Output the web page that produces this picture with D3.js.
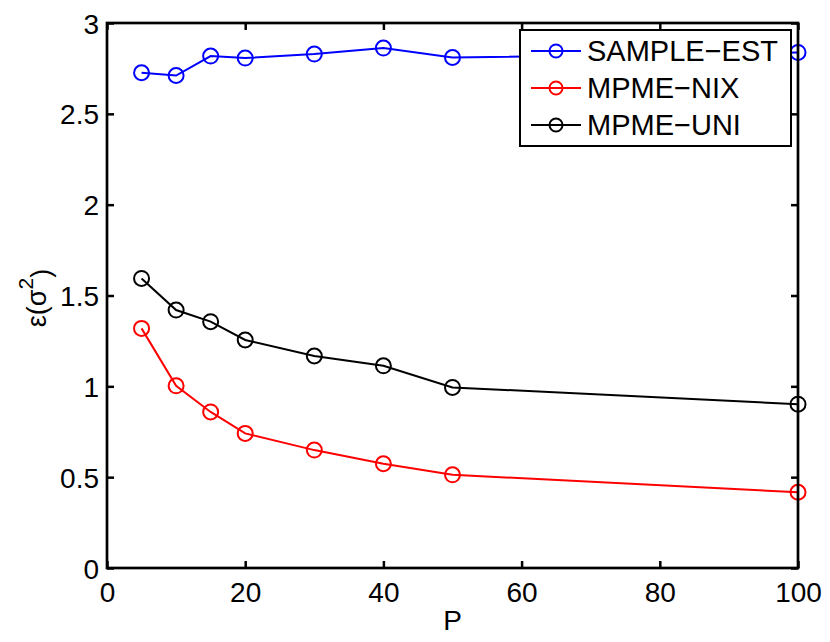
<!DOCTYPE html>
<html>
<head>
<meta charset="utf-8">
<script src="https://cdn.jsdelivr.net/npm/d3@7"></script>
<style>
  body { margin: 0; background: #fff; }
  svg text { font-family: "Liberation Sans", Arial, Helvetica, sans-serif; fill: #000; }
</style>
</head>
<body>
<svg id="chart" width="830" height="642"></svg>
<script>
// data
const pValues = [5, 10, 15, 20, 30, 40, 50, 100];
const sampleEst = [2.726, 2.711, 2.818, 2.807, 2.829, 2.862, 2.810, 2.838];
const mpmeNix = [1.319, 1.003, 0.859, 0.741, 0.649, 0.574, 0.513, 0.417];
const mpmeUni = [1.594, 1.420, 1.356, 1.255, 1.167, 1.113, 0.994, 0.902];
const seriesNames = ['SAMPLE\u2212EST', 'MPME\u2212NIX', 'MPME\u2212UNI'];
const xTicks = [0, 20, 40, 60, 80, 100];
const yTicks = [0, 0.5, 1, 1.5, 2, 2.5, 3];

const margin = { top: 23, right: 32, bottom: 74, left: 107 };
const width = 830 - margin.left - margin.right;
const height = 642 - margin.top - margin.bottom;

const svg = d3.select('svg#chart');
const g = svg.append('g')
    .attr('transform', `translate(${margin.left},${margin.top})`);

const xScale = d3.scaleLinear().domain([0, 100]).range([0, width]);
const yScale = d3.scaleLinear().domain([0, 3]).range([height, 0]);

const colors = ['#0000ff', '#ff0000', '#000000'];
const series = [sampleEst, mpmeNix, mpmeUni];

// axes, ticks point inward on every side
const tickLen = 7;
g.append('g')
    .attr('class', 'x-axis')
    .attr('transform', `translate(0,${height})`)
    .call(d3.axisBottom(xScale).tickValues(xTicks).tickSizeInner(-tickLen).tickSizeOuter(0).tickPadding(14))
    .call(a => a.select('.domain').remove());

g.append('g')
    .attr('class', 'y-axis')
    .call(d3.axisLeft(yScale).tickValues(yTicks).tickSizeInner(-tickLen).tickSizeOuter(0).tickPadding(8).tickFormat(d3.format('')))
    .call(a => a.select('.domain').remove());

g.append('g')
    .attr('class', 'x-axis-top')
    .call(d3.axisTop(xScale).tickValues(xTicks).tickSizeInner(-tickLen).tickSizeOuter(0).tickFormat(''))
    .call(a => a.select('.domain').remove());

g.append('g')
    .attr('class', 'y-axis-right')
    .attr('transform', `translate(${width},0)`)
    .call(d3.axisRight(yScale).tickValues(yTicks).tickSizeInner(-tickLen).tickSizeOuter(0).tickFormat(''))
    .call(a => a.select('.domain').remove());

svg.selectAll('.tick line').attr('stroke', '#000').attr('stroke-width', 2.5);
svg.selectAll('.x-axis text, .y-axis text')
    .style('font-size', '28px');
svg.selectAll('.y-axis text').attr('dy', '0.36em');
svg.selectAll('.x-axis text').attr('dy', '0.72em');

// data lines and circle markers
const line = d3.line()
    .x((d, i) => xScale(pValues[i]))
    .y(d => yScale(d));

series.forEach((vals, k) => {
    const sg = g.append('g').attr('class', 'series');
    sg.append('path')
        .datum(vals)
        .attr('fill', 'none')
        .attr('stroke', colors[k])
        .attr('stroke-width', 2)
        .attr('d', line);
    sg.selectAll('circle')
        .data(vals)
        .enter()
        .append('circle')
        .attr('cx', (d, i) => xScale(pValues[i]))
        .attr('cy', d => yScale(d))
        .attr('r', 7.5)
        .attr('fill', 'none')
        .attr('stroke', colors[k])
        .attr('stroke-width', 2);
});

// frame
g.append('rect')
    .attr('width', width)
    .attr('height', height)
    .attr('fill', 'none')
    .attr('stroke', '#000')
    .attr('stroke-width', 2.7);

// legend
const legendG = g.append('g')
    .attr('transform', `translate(${520 - margin.left},${30 - margin.top})`);
legendG.append('rect')
    .attr('width', 271)
    .attr('height', 116)
    .attr('fill', '#fff')
    .attr('stroke', '#000')
    .attr('stroke-width', 2);

seriesNames.forEach((name, k) => {
    const row = legendG.append('g')
        .attr('transform', `translate(0,${21 + k * 37})`);
    row.append('line')
        .attr('x1', 11).attr('x2', 61)
        .attr('stroke', colors[k])
        .attr('stroke-width', 2);
    row.append('circle')
        .attr('cx', 36)
        .attr('r', 6.5)
        .attr('fill', 'none')
        .attr('stroke', colors[k])
        .attr('stroke-width', 2);
    row.append('text')
        .attr('x', 67)
        .attr('dy', '0.36em')
        .style('font-size', '29px')
        .text(name);
});

// axis labels
svg.append('text')
    .attr('x', margin.left + xScale(50))
    .attr('y', 630)
    .attr('text-anchor', 'middle')
    .style('font-size', '28px')
    .text('P');

const yLabel = svg.append('text')
    .attr('transform', `translate(46,298) rotate(-90)`)
    .attr('text-anchor', 'middle')
    .style('font-size', '27px');
yLabel.append('tspan').text('\u03b5(\u03c3');
yLabel.append('tspan').attr('dy', '-0.6em').style('font-size', '21px').text('2');
yLabel.append('tspan').attr('dy', '0.6em').text(')');
</script>
</body>
</html>
